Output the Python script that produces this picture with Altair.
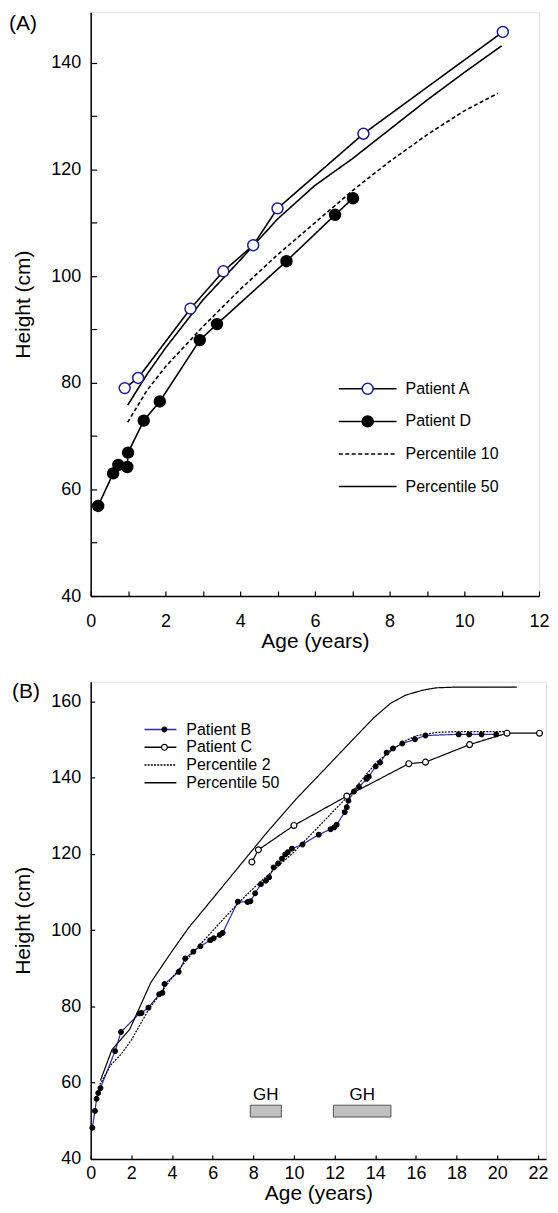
import altair as alt
import pandas as pd

FONT = "Liberation Sans"

# ---------------- Panel A data ----------------
a_series = ["Patient A", "Patient D", "Percentile 10", "Percentile 50"]
patA_age = [0.91, 1.27, 2.67, 3.55, 4.35, 5.0, 7.3, 11.03]
patA_h = [79.0, 80.9, 93.9, 100.9, 105.8, 112.7, 126.7, 145.8]
patD_age = [0.2, 0.6, 0.74, 0.98, 1.0, 1.42, 1.85, 2.92, 3.38, 5.24, 6.54, 7.02]
patD_h = [56.9, 63.0, 64.6, 64.2, 66.9, 72.9, 76.5, 88.0, 91.0, 102.8, 111.5, 114.6]
p10_age = [0.99, 1.5, 2, 3, 4, 5, 6, 7, 8, 9, 10, 10.9]
p10_h = [72.6, 78.5, 83.0, 90.5, 97.5, 104.0, 110.0, 116.0, 121.5, 126.5, 131.0, 134.3]
p50a_age = [0.99, 1.5, 2, 3, 4, 5, 6, 7, 8, 9, 10, 11.0]
p50a_h = [75.8, 81.5, 86.5, 95.5, 103.0, 110.7, 117.0, 122.0, 127.5, 133.0, 138.2, 143.2]

# ---------------- Panel B data ----------------
b_series = ["Patient B", "Patient C", "Percentile 2", "Percentile 50"]
patB_age = [0.08, 0.21, 0.29, 0.37, 0.48, 1.2, 1.49, 2.4, 2.5, 2.84, 3.37, 3.53, 3.63,
            4.33, 4.65, 5.05, 5.4, 5.88, 6.05, 6.35, 6.49, 7.24, 7.72, 7.86, 8.09, 8.37,
            8.62, 8.78, 9.0, 9.22, 9.41, 9.57, 9.7, 9.9, 10.42, 11.22, 11.8, 11.98, 12.1,
            12.5, 12.6, 12.68, 12.95, 13.2, 13.57, 13.68, 14.02, 14.24, 14.56, 14.87,
            15.33, 15.95, 16.47, 18.1, 18.62, 19.23, 19.95]
patB_h = [48.2, 52.6, 55.8, 57.3, 58.6, 68.3, 73.3, 78.2, 78.3, 79.7, 83.2, 83.6, 85.9,
          89.1, 92.6, 94.4, 95.8, 97.4, 97.9, 98.8, 99.3, 107.5, 107.4, 107.6, 109.7, 112.1,
          113.0, 113.9, 116.5, 117.5, 118.8, 119.9, 120.5, 121.4, 122.5, 125.1, 126.5, 127.0, 127.7,
          131.0, 132.3, 134.0, 136.4, 137.6, 139.7, 140.3, 143.0, 144.0, 146.6, 147.7,
          149.0, 150.1, 151.1, 151.4, 151.4, 151.4, 151.4]
patC_age = [7.93, 8.25, 10.0, 12.6, 15.65, 16.47, 18.64, 20.48, 22.08]
patC_h = [117.9, 121.1, 127.5, 135.2, 143.7, 144.1, 148.7, 151.7, 151.7]
p2_age = [0.45, 1.0, 1.5, 2.0, 2.85, 4.0, 5.0, 6.4, 7.24, 8.0, 9.0, 10.0, 10.45, 12.9,
          13.5, 14.1, 15.4, 16.0, 17.0, 18.0, 20.5]
p2_h = [59.5, 64.7, 67.5, 71.2, 79.2, 87.5, 94.0, 102.2, 107.0, 111.0, 115.8, 120.5, 123.0,
        136.5, 140.5, 144.3, 149.5, 151.0, 151.9, 152.1, 152.1]
p50b_age = [0.48, 1.04, 1.92, 2.96, 4.0, 4.81, 6.0, 7.0, 8.0, 8.74, 10.1, 11.0, 12.0, 13.0,
            13.94, 14.74, 15.5, 16.35, 17.0, 18.0, 20.96]
p50b_h = [60.6, 68.6, 74.0, 86.3, 94.5, 100.6, 108.3, 114.8, 121.3, 126.1, 134.4, 139.4,
          145.0, 150.6, 155.8, 159.5, 161.7, 163.0, 163.6, 163.8, 163.8]

gh_start = [7.85, 11.94]
gh_end = [9.38, 14.77]
gh_low = [51.0, 51.0]
gh_high = [54.1, 54.1]
gh_text_h = [56.9, 56.9]
gh_label = ["GH", "GH"]


def frame(name, ages, hs):
    return pd.DataFrame({"age": ages, "h": hs, "series": name, "pseries": name})


AXIS_COMMON = dict(
    grid=False, domainColor="black", domainWidth=1.5, tickColor="black", tickWidth=1.2,
    labelFont=FONT, labelFontSize=18, labelColor="black", labelOverlap=False,
    labelFlush=False, titleFont=FONT, titleFontSize=21, titleFontWeight="normal",
    titleColor="black",
)

# ---------------- Panel A ----------------
lines_a = pd.concat([
    frame("Patient A", patA_age, patA_h),
    frame("Patient D", patD_age, patD_h),
    frame("Percentile 10", p10_age, p10_h),
    frame("Percentile 50", p50a_age, p50a_h),
])
pts_a = pd.concat([frame("Patient A", patA_age, patA_h), frame("Patient D", patD_age, patD_h)])

xA = alt.X("age:Q", scale=alt.Scale(domain=[0, 12], nice=False, zero=False),
           axis=alt.Axis(title="Age (years)", values=list(range(0, 13)),
                         labelExpr="datum.value % 2 == 0 ? datum.label : ''",
                         tickSize=alt.ExprRef(expr="-5"), labelPadding=22, titlePadding=0,
                         **AXIS_COMMON))
yA = alt.Y("h:Q", scale=alt.Scale(domain=[40, 149.5], nice=False, zero=False),
           axis=alt.Axis(title="Height (cm)", values=list(range(40, 150, 10)),
                         labelExpr="datum.value % 20 == 0 ? datum.label : ''",
                         tickSize=alt.ExprRef(expr="-6"), labelPadding=16, titlePadding=17,
                         **AXIS_COMMON))

leg_lines_a = alt.Legend(orient="none", legendX=248, legendY=370, title=None,
                         symbolType="stroke", symbolSize=3364, symbolStrokeWidth=1.5,
                         symbolStrokeColor="black", labelFont=FONT, labelFontSize=16,
                         labelColor="black", labelOffset=8, clipHeight=16,
                         rowPadding=16.7, padding=0, direction="vertical")
leg_pts_a = alt.Legend(orient="none", legendX=270, legendY=370, title=None,
                       symbolType="circle", symbolSize=120, symbolStrokeWidth=1.5,
                       labelFont=FONT, labelFontSize=16, labelOpacity=0, clipHeight=16,
                       rowPadding=16.7, padding=0, direction="vertical")

la = alt.Chart(lines_a).mark_line(color="black", strokeWidth=1.6).encode(
    x=xA, y=yA,
    strokeDash=alt.StrokeDash("series:N", scale=alt.Scale(
        domain=a_series, range=[[1, 0], [1, 0], [4, 2.5], [1, 0]]), legend=leg_lines_a),
)
pa = alt.Chart(pts_a).mark_point(shape="circle", strokeWidth=1.5, opacity=1, size=120).encode(
    x=xA, y=yA,
    fill=alt.Fill("pseries:N", scale=alt.Scale(domain=["Patient A", "Patient D"],
                                               range=["white", "black"]), legend=leg_pts_a),
    stroke=alt.Stroke("pseries:N", scale=alt.Scale(domain=["Patient A", "Patient D"],
                                                   range=["#1c1c9c", "black"]), legend=leg_pts_a),
)
ta = alt.Chart(pd.DataFrame({"t": ["(A)"]})).mark_text(
    align="left", baseline="middle", font=FONT, fontSize=21, color="black").encode(
    text="t:N", x=alt.value(-82), y=alt.value(12))

panelA = alt.layer(la, pa, ta).properties(width=450, height=586)

# ---------------- Panel B ----------------
lines_b = pd.concat([
    frame("Patient B", patB_age, patB_h),
    frame("Patient C", patC_age, patC_h),
    frame("Percentile 2", p2_age, p2_h),
    frame("Percentile 50", p50b_age, p50b_h),
])
pts_b = pd.concat([frame("Patient B", patB_age, patB_h), frame("Patient C", patC_age, patC_h)])
gh = pd.DataFrame({"s": gh_start, "e": gh_end, "lo": gh_low, "hi": gh_high,
                   "mid": [(s + e) / 2 for s, e in zip(gh_start, gh_end)],
                   "th": gh_text_h, "lab": gh_label})

XB_SCALE = alt.Scale(domain=[0, 22.4], nice=False, zero=False)
YB_SCALE = alt.Scale(domain=[40, 165.2], nice=False, zero=False)
xB = alt.X("age:Q", scale=XB_SCALE,
           axis=alt.Axis(title="Age (years)", values=list(range(0, 23)),
                         labelExpr="datum.value % 2 == 0 ? datum.label : ''",
                         tickSize=alt.ExprRef(expr="-4"), labelPadding=10, titlePadding=0,
                         **AXIS_COMMON))
yB = alt.Y("h:Q", scale=YB_SCALE,
           axis=alt.Axis(title="Height (cm)", values=list(range(40, 170, 10)),
                         labelExpr="datum.value % 20 == 0 ? datum.label : ''",
                         tickSize=alt.ExprRef(expr="-4"), labelPadding=14, titlePadding=17,
                         **AXIS_COMMON))

leg_lines_b = alt.Legend(orient="none", legendX=53, legendY=40, title=None,
                         symbolType="stroke", symbolSize=1024, symbolStrokeWidth=1.5,
                         labelFont=FONT, labelFontSize=16, labelColor="black",
                         labelOffset=9, clipHeight=16, rowPadding=1.8, padding=0,
                         direction="vertical")
leg_pts_b = alt.Legend(orient="none", legendX=66, legendY=40, title=None,
                       symbolType="circle", symbolStrokeWidth=1.2,
                       labelFont=FONT, labelFontSize=16, labelOpacity=0, clipHeight=16,
                       rowPadding=1.8, padding=0, direction="vertical")

lb = alt.Chart(lines_b).mark_line(strokeWidth=1.2).encode(
    x=xB, y=yB,
    color=alt.Color("series:N", scale=alt.Scale(
        domain=b_series, range=["#2a2ab0", "black", "black", "black"]), legend=leg_lines_b),
    strokeDash=alt.StrokeDash("series:N", scale=alt.Scale(
        domain=b_series, range=[[1, 0], [1, 0], [2, 1.2], [1, 0]]), legend=leg_lines_b),
)
pb = alt.Chart(pts_b).mark_point(shape="circle", strokeWidth=1.2, opacity=1).encode(
    x=xB, y=yB,
    fill=alt.Fill("pseries:N", scale=alt.Scale(domain=["Patient B", "Patient C"],
                                               range=["black", "white"]), legend=leg_pts_b),
    stroke=alt.Stroke("pseries:N", scale=alt.Scale(domain=["Patient B", "Patient C"],
                                                   range=["black", "black"]), legend=leg_pts_b),
    size=alt.Size("pseries:N", scale=alt.Scale(domain=["Patient B", "Patient C"],
                                               range=[22, 35]), legend=leg_pts_b),
)
rb = alt.Chart(gh).mark_rect(fill="#c0c0c0", stroke="#555555", strokeWidth=1).encode(
    x=alt.X("s:Q", scale=XB_SCALE), x2="e:Q",
    y=alt.Y("lo:Q", scale=YB_SCALE), y2="hi:Q",
)
gt = alt.Chart(gh).mark_text(font=FONT, fontSize=17, color="black", baseline="middle").encode(
    x="mid:Q", y="th:Q", text="lab:N")
tb = alt.Chart(pd.DataFrame({"t": ["(B)"]})).mark_text(
    align="left", baseline="middle", font=FONT, fontSize=21, color="black").encode(
    text="t:N", x=alt.value(-79), y=alt.value(10))

panelB = alt.layer(lb, pb, rb, gt, tb).properties(width=457, height=479)

IND = "independent"
chart = alt.vconcat(panelA, panelB, spacing=27).resolve_scale(
    color=IND, fill=IND, stroke=IND, strokeDash=IND, size=IND
).resolve_legend(
    color=IND, fill=IND, stroke=IND, strokeDash=IND, size=IND
).properties(
    padding={"left": 0, "top": 1, "right": 0, "bottom": 0}
).configure_view(stroke="black", strokeWidth=1.5).configure(background="white")

chart.save("out.html", embed_options={"renderer": "svg", "actions": False})
